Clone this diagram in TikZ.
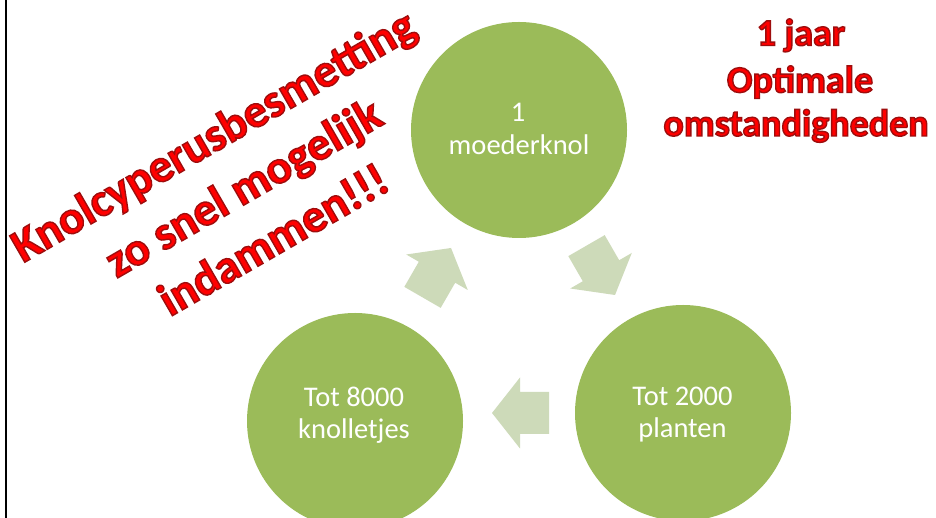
\documentclass[tikz,border=0pt]{standalone}
\usepackage{fontspec}
\setmainfont{Carlito}
\definecolor{cgreen}{RGB}{155,187,89}
\definecolor{carrow}{RGB}{205,218,185}
\definecolor{cred}{RGB}{255,0,0}
\tikzset{
  bubble/.style={circle, fill=cgreen, minimum size=216pt, inner sep=0pt, draw=none},
  bubbletext/.style={text=white, font=\fontsize{28.5}{34}\selectfont, anchor=base, inner sep=0pt},
  cyclearrow/.style={fill=carrow, draw=none},
  warnfont/.style={font=\bfseries\fontsize{47}{56}\selectfont, anchor=base, inner sep=0pt, rotate=30, text=cred},
  notefont/.style={font=\bfseries\fontsize{38}{45}\selectfont, anchor=base, inner sep=0pt, text=cred},
  cyclicarrow/.pic={\fill[cyclearrow] (0,0) -- (-28,35.5) -- (-28,21) -- (-57,21) -- (-57,-21) -- (-28,-21) -- (-28,-35.5) -- cycle;}
}
\newcommand\outlined[1]{\special{pdf:literal direct 2 Tr 1.4 w 0.62 0.05 0.05 RG}#1\special{pdf:literal direct 0 Tr}}
\begin{document}
\begin{tikzpicture}[x=1pt,y=1pt]
\useasboundingbox (0,0) rectangle (936,518);
\clip (0,0) rectangle (936,518);
\fill[white] (0,0) rectangle (936,518);
\coordinate (lt) at (6,518);
\coordinate (lb) at (6,0);
\draw[line width=2.3pt, black] (lt) -- (lb);

% circles
\node[bubble] (top) at (519,388) {};
\node[bubble] (left) at (355,97) {};
\node[bubble] (right) at (683,105) {};
\node[bubbletext] (topa) at (518,396) {1};
\node[bubbletext] (topb) at (519,363) {moederknol};
\node[bubbletext] (lefta) at (354,111) {Tot 8000};
\node[bubbletext] (leftb) at (354,79) {knolletjes};
\node[bubbletext] (righta) at (682.5,112) {Tot 2000};
\node[bubbletext] (rightb) at (682.5,80) {planten};

% cycle arrows
\pic[rotate=-60] at (615,223) {cyclicarrow};
\pic[rotate=180] at (492,105) {cyclicarrow};
\pic[rotate=60] at (451,270) {cyclicarrow};

% red texts
\node[warnfont] (wa) at (221,369) {\outlined{Knolcyperusbesmetting}};
\node[warnfont] (wb) at (251,317) {\outlined{zo snel mogelijk}};
\node[warnfont] (wc) at (281,265) {\outlined{indammen!!!}};
\node[notefont] (na) at (801,472.5) {\outlined{1 jaar}};
\node[notefont] (nb) at (800,425.5) {\outlined{Optimale}};
\node[notefont] (nc) at (796,382) {\outlined{omstandigheden}};
\end{tikzpicture}
\end{document}
